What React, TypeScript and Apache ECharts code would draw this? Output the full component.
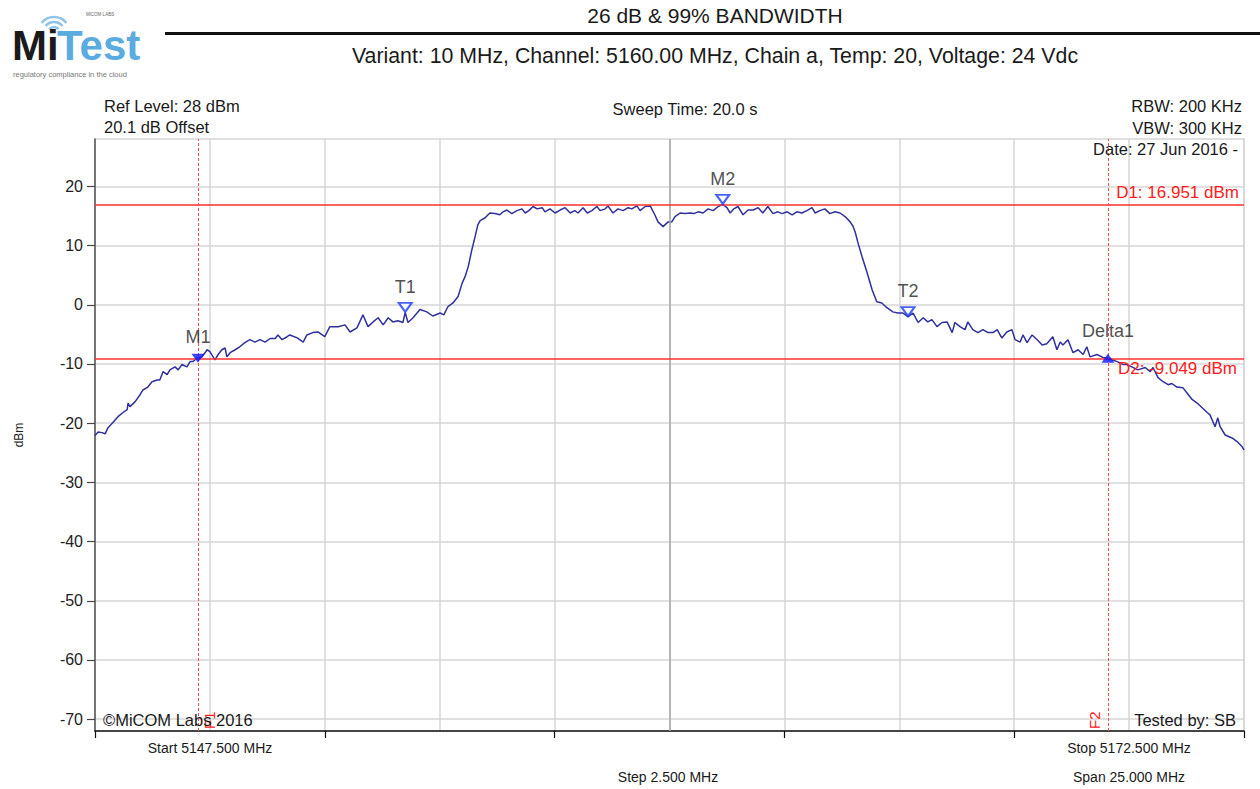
import React, { useEffect, useRef } from "react";
import * as echarts from "echarts";

// ---- data ----
const traceMHz = [
  5147.5, 5147.57, 5147.65, 5147.72, 5147.78, 5147.89, 5148.0, 5148.11, 5148.2, 5148.22,
  5148.26, 5148.37, 5148.48, 5148.54, 5148.65, 5148.74, 5148.85, 5148.91, 5148.98, 5149.07,
  5149.13, 5149.24, 5149.31, 5149.39, 5149.5, 5149.57, 5149.63, 5149.72, 5149.74, 5149.83,
  5149.94, 5150.0, 5150.11, 5150.18, 5150.26, 5150.33, 5150.37, 5150.44, 5150.55, 5150.65,
  5150.76, 5150.87, 5150.98, 5151.09, 5151.2, 5151.31, 5151.42, 5151.48, 5151.57, 5151.68,
  5151.74, 5151.9, 5152.03, 5152.11, 5152.24, 5152.35, 5152.5, 5152.61, 5152.79, 5152.94,
  5153.05, 5153.2, 5153.33, 5153.44, 5153.55, 5153.66, 5153.77, 5153.88, 5153.98, 5154.09,
  5154.2, 5154.25, 5154.31, 5154.42, 5154.57, 5154.72, 5154.85, 5155.01, 5155.09, 5155.18,
  5155.29, 5155.4, 5155.49, 5155.55, 5155.62, 5155.7, 5155.77, 5155.83, 5155.88, 5155.99,
  5156.09, 5156.2, 5156.31, 5156.38, 5156.46, 5156.57, 5156.68, 5156.79, 5156.86, 5156.94,
  5157.03, 5157.12, 5157.23, 5157.29, 5157.4, 5157.51, 5157.62, 5157.73, 5157.84, 5157.94,
  5158.01, 5158.12, 5158.21, 5158.31, 5158.42, 5158.49, 5158.6, 5158.66, 5158.77, 5158.88,
  5158.99, 5159.1, 5159.18, 5159.29, 5159.36, 5159.47, 5159.58, 5159.68, 5159.75, 5159.86,
  5159.97, 5160.05, 5160.12, 5160.23, 5160.34, 5160.45, 5160.53, 5160.62, 5160.73, 5160.84,
  5160.95, 5161.06, 5161.16, 5161.25, 5161.32, 5161.4, 5161.49, 5161.6, 5161.71, 5161.82,
  5161.93, 5162.03, 5162.14, 5162.25, 5162.36, 5162.45, 5162.56, 5162.67, 5162.77, 5162.88,
  5162.99, 5163.1, 5163.17, 5163.27, 5163.38, 5163.49, 5163.6, 5163.71, 5163.82, 5163.93,
  5163.99, 5164.04, 5164.1, 5164.19, 5164.3, 5164.41, 5164.51, 5164.62, 5164.73, 5164.86,
  5164.97, 5165.08, 5165.19, 5165.3, 5165.41, 5165.52, 5165.62, 5165.71, 5165.82, 5165.93,
  5166.04, 5166.15, 5166.21, 5166.32, 5166.43, 5166.49, 5166.6, 5166.71, 5166.82, 5166.93,
  5167.04, 5167.13, 5167.23, 5167.34, 5167.45, 5167.52, 5167.63, 5167.69, 5167.78, 5167.89,
  5168.0, 5168.11, 5168.21, 5168.34, 5168.43, 5168.5, 5168.56, 5168.67, 5168.78, 5168.89,
  5169.0, 5169.08, 5169.15, 5169.3, 5169.43, 5169.54, 5169.63, 5169.74, 5169.87, 5169.95,
  5170.06, 5170.19, 5170.35, 5170.46, 5170.52, 5170.63, 5170.74, 5170.85, 5170.93, 5171.04,
  5171.17, 5171.26, 5171.37, 5171.48, 5171.59, 5171.7, 5171.76, 5171.87, 5171.93, 5171.98,
  5172.09, 5172.24, 5172.35, 5172.46, 5172.5,
];

const traceDbm = [
  -22.1, -21.5, -21.6, -21.8, -20.8, -19.9, -18.9, -18.2, -17.7, -16.6,
  -17.2, -16.4, -15.2, -14.4, -13.9, -13.0, -12.7, -12.7, -11.3, -11.8,
  -11.0, -10.5, -11.0, -10.1, -10.5, -9.6, -9.6, -9.0, -9.05, -8.8,
  -7.6, -7.9, -9.3, -8.4, -7.6, -7.3, -8.8, -8.1, -7.6, -7.1,
  -6.4, -5.9, -6.3, -5.9, -6.3, -5.7, -5.7, -5.1, -5.9, -5.4,
  -5.1, -5.6, -6.3, -5.1, -4.7, -4.6, -5.4, -3.7, -3.7, -3.4,
  -4.6, -3.9, -1.7, -3.7, -2.9, -2.2, -3.4, -2.2, -2.9, -2.7,
  -3.0, -1.3, -3.0, -2.2, -0.8, -1.2, -1.9, -1.4, -1.7, -0.3,
  0.3, 1.4, 3.7, 4.7, 6.4, 9.3, 11.5, 13.5, 14.2, 14.7,
  15.5, 15.4, 15.2, 15.7, 16.0, 15.4, 15.9, 16.2, 15.5, 15.9,
  16.6, 16.2, 16.4, 15.7, 16.2, 15.5, 16.0, 16.4, 15.5, 15.9,
  15.5, 16.4, 15.5, 15.9, 16.6, 15.9, 16.2, 16.7, 15.5, 16.2,
  15.9, 16.4, 16.2, 16.7, 15.9, 16.6, 16.7, 15.2, 14.0, 13.2,
  14.0, 14.0, 14.9, 15.5, 15.4, 15.5, 15.4, 15.7, 15.5, 16.2,
  15.9, 16.6, 16.95, 16.4, 15.5, 16.2, 16.6, 15.2, 16.0, 16.0,
  16.4, 15.5, 16.6, 15.4, 15.7, 15.4, 15.7, 15.2, 15.7, 15.5,
  15.9, 16.4, 15.5, 15.9, 16.2, 15.4, 15.7, 15.5, 14.9, 14.0,
  13.3, 12.3, 10.5, 8.1, 5.4, 2.5, 0.5, 0.3, -0.5, -1.2,
  -1.4, -1.4, -2.0, -1.4, -3.0, -2.2, -2.9, -2.5, -3.7, -3.0,
  -2.9, -4.7, -3.0, -3.7, -4.2, -2.9, -4.2, -4.7, -4.2, -4.7,
  -4.7, -4.2, -5.6, -4.6, -4.2, -5.9, -6.3, -5.1, -6.4, -5.1,
  -5.9, -6.8, -6.6, -5.4, -7.6, -6.3, -6.8, -5.9, -8.1, -7.6,
  -8.4, -7.1, -8.8, -8.4, -8.9, -9.05, -9.3, -9.6, -10.1, -10.1,
  -10.5, -11.0, -10.6, -11.3, -10.6, -12.3, -13.0, -13.5, -13.3, -13.9,
  -14.0, -14.9, -16.0, -16.6, -17.4, -18.2, -18.6, -20.6, -19.1, -20.6,
  -22.0, -22.5, -23.1, -24.0, -24.5,
];

const yTickValues = [20, 10, 0, -10, -20, -30, -40, -50, -60, -70];
const xMajorTicks = [5147.5, 5152.5, 5157.5, 5162.5, 5167.5, 5172.5];
const refLevel = 28;
const yBottom = -72;
const startMHz = 5147.5;
const stopMHz = 5172.5;
const stepMHz = 2.5;
const centerMHz = 5160;
const d1Level = 16.951;
const d2Level = -9.049;
const f1MHz = 5149.74;
const f2MHz = 5169.54;

const markerNames = ["M1", "T1", "M2", "T2", "Delta1"];
const markerMHz = [5149.74, 5154.25, 5161.16, 5165.19, 5169.54];
const markerDbm = [-9.049, -1.3, 16.951, -2.0, -9.049];
const markerFilled = [true, false, false, false, true];
const markerUp = [false, false, false, false, true];
const markerLabelGap = [8, 6, 6, 6, 14];

const FONT = "'Liberation Sans', Arial, sans-serif";

function txt(x: number, y: number, text: string, size: number, align: string, color = "#1a1a1a", extra: any = {}) {
  return {
    type: "text",
    x,
    y,
    silent: true,
    z: 100,
    style: {
      text,
      fill: color,
      fontSize: size,
      fontFamily: FONT,
      align,
      verticalAlign: "middle",
      textAlign: align,
      textVerticalAlign: "middle",
      ...extra,
    },
  };
}

export default function App() {
  const ref = useRef<HTMLDivElement>(null);

  useEffect(() => {
    document.body.style.margin = "0";
    const chart = echarts.init(ref.current!, null, { renderer: "svg" });

    const wifiArcs = [6, 11, 16].map((r) => ({
      type: "arc",
      silent: true,
      shape: { cx: 54, cy: 33, r, startAngle: -Math.PI * 0.78, endAngle: -Math.PI * 0.22, clockwise: true },
      style: { stroke: "#8fc3e8", lineWidth: 2.6, fill: "none" },
    }));

    const option: any = {
      animation: false,
      backgroundColor: "#ffffff",
      grid: {
        left: 95,
        top: 139,
        width: 1149,
        height: 592,
        show: true,
        borderColor: "#d6d6d6",
        borderWidth: 1.5,
        containLabel: false,
      },
      xAxis: [
        {
          type: "value",
          min: startMHz,
          max: stopMHz,
          interval: stepMHz,
          axisLine: { show: false },
          axisTick: { show: false },
          axisLabel: { show: false },
          splitLine: { show: true, lineStyle: { color: "#d6d6d6", width: 1.5 } },
        },
        {
          type: "value",
          min: startMHz,
          max: stopMHz,
          position: "bottom",
          axisLine: { show: true, onZero: false, lineStyle: { color: "#111", width: 1.5 } },
          axisTick: { show: true, customValues: xMajorTicks, length: 7, lineStyle: { color: "#111", width: 1.2 } },
          axisLabel: { show: false, customValues: xMajorTicks },
          splitLine: { show: false },
        },
      ],
      yAxis: {
        type: "value",
        min: yBottom,
        max: refLevel,
        axisLine: { show: true, onZero: false, lineStyle: { color: "#555", width: 1.5 } },
        axisTick: { show: true, customValues: yTickValues, length: 8, lineStyle: { color: "#444", width: 1.2 } },
        axisLabel: { customValues: yTickValues, fontSize: 16, color: "#222", margin: 12, fontFamily: FONT },
        splitLine: { show: true, lineStyle: { color: "#d6d6d6", width: 1.5 } },
        name: "dBm",
        nameLocation: "middle",
        nameGap: 70,
        nameRotate: 90,
        nameTextStyle: { fontSize: 12, color: "#222", fontFamily: FONT },
      },
      series: [
        {
          type: "line",
          data: [],
          xAxisIndex: 0,
          z: 2,
          silent: true,
          markLine: {
            silent: true,
            symbol: ["none", "none"],
            animation: false,
            data: [
              {
                xAxis: centerMHz,
                lineStyle: { color: "#a8a8a8", width: 1.5, type: "solid" },
                label: { show: false },
              },
              {
                yAxis: d1Level,
                lineStyle: { color: "#ff3030", width: 1.6, type: "solid" },
                label: {
                  show: true,
                  position: "insideEndTop",
                  formatter: `D1: ${d1Level.toFixed(3)} dBm`,
                  color: "#ff2020",
                  fontSize: 17,
                  fontFamily: FONT,
                  distance: [5, 3],
                },
              },
              {
                yAxis: d2Level,
                lineStyle: { color: "#ff3030", width: 1.6, type: "solid" },
                label: {
                  show: true,
                  position: "insideEndBottom",
                  formatter: `D2: ${d2Level.toFixed(3)} dBm`,
                  color: "#ff2020",
                  fontSize: 17,
                  fontFamily: FONT,
                  distance: [7, 2],
                },
              },
              {
                xAxis: f1MHz,
                lineStyle: { color: "#ff4a4a", width: 1, type: [3, 2] },
                label: {
                  show: true,
                  position: "insideStartBottom",
                  formatter: "F1",
                  color: "#ff2020",
                  fontSize: 15,
                  fontFamily: FONT,
                  distance: [2, 4],
                },
              },
              {
                xAxis: f2MHz,
                lineStyle: { color: "#ff4a4a", width: 1, type: [3, 2] },
                label: {
                  show: true,
                  position: "insideStartTop",
                  formatter: "F2",
                  color: "#ff2020",
                  fontSize: 15,
                  fontFamily: FONT,
                  distance: [2, 6],
                },
              },
            ],
          },
        },
        {
          type: "line",
          name: "trace",
          xAxisIndex: 0,
          z: 3,
          data: traceMHz.map((f, i) => [f, traceDbm[i]]),
          showSymbol: false,
          symbol: "none",
          lineStyle: { color: "#30309e", width: 1.5 },
          silent: true,
        },
        {
          type: "scatter",
          xAxisIndex: 0,
          z: 5,
          silent: true,
          data: markerNames.map((n, i) => ({
            value: [markerMHz[i], markerDbm[i]],
            name: n,
            symbol: "triangle",
            symbolSize: [13, 9],
            symbolRotate: markerUp[i] ? 0 : 180,
            symbolOffset: markerFilled[i] ? [0, 0] : [0, -5],
            itemStyle: markerFilled[i]
              ? { color: "#0a14ff" }
              : { color: "#ffffff", borderColor: "#1a3cff", borderWidth: 2 },
            label: {
              show: true,
              formatter: n,
              position: "top",
              distance: markerLabelGap[i],
              color: "#222",
              fontSize: 18,
              fontFamily: FONT,
            },
          })),
        },
      ],
      graphic: [
        ...wifiArcs,
        {
          type: "text",
          x: 12,
          y: 66,
          silent: true,
          style: { text: "Mi", fill: "#1b1b1b", fontSize: 42, fontWeight: "bold", fontFamily: FONT, textVerticalAlign: "bottom", verticalAlign: "bottom" },
        },
        {
          type: "text",
          x: 57,
          y: 66,
          silent: true,
          style: { text: "Test", fill: "#5aabdf", fontSize: 42, fontWeight: "bold", fontFamily: FONT, textVerticalAlign: "bottom", verticalAlign: "bottom" },
        },
        txt(100, 14, "MICOM LABS", 4.5, "center", "#666"),
        txt(13, 74, "regulatory compliance in the cloud", 7.5, "left", "#777"),
        {
          type: "rect",
          silent: true,
          shape: { x: 165, y: 32, width: 1095, height: 3 },
          style: { fill: "#111" },
        },
        txt(715, 15, "26 dB & 99% BANDWIDTH", 21, "center"),
        txt(715, 56, "Variant: 10 MHz, Channel: 5160.00 MHz, Chain a, Temp: 20, Voltage: 24 Vdc", 21.3, "center"),
        txt(104, 106, "Ref Level: 28 dBm", 16.5, "left"),
        txt(104, 127, "20.1 dB Offset", 16.5, "left"),
        txt(685, 109, "Sweep Time: 20.0 s", 16.5, "center"),
        txt(1242, 106, "RBW: 200 KHz", 16.5, "right"),
        txt(1242, 128, "VBW: 300 KHz", 16.5, "right"),
        txt(1238, 149, "Date: 27 Jun 2016 -", 16.5, "right"),
        txt(103, 720, "\u00A9MiCOM Labs 2016", 16.5, "left"),
        txt(1236, 720, "Tested by: SB", 16.5, "right"),
        txt(210, 748, "Start 5147.500 MHz", 14, "center"),
        txt(1129, 748, "Stop 5172.500 MHz", 14, "center"),
        txt(668, 777, "Step 2.500 MHz", 14, "center"),
        txt(1129, 777, "Span 25.000 MHz", 14, "center"),
      ],
    };

    chart.setOption(option);
    return () => chart.dispose();
  }, []);

  return <div ref={ref} style={{ width: 1260, height: 789 }} />;
}
